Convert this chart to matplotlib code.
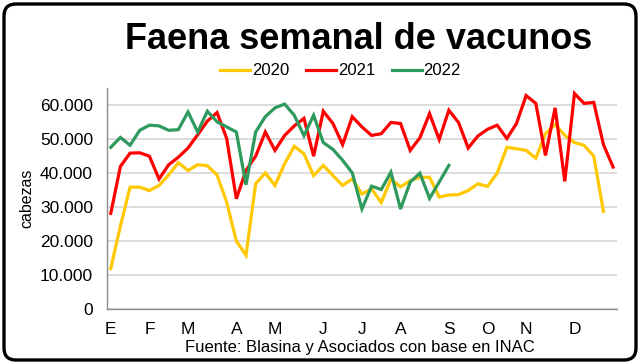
import matplotlib
matplotlib.use("Agg")
import matplotlib.pyplot as plt
from matplotlib.patches import FancyBboxPatch
from matplotlib.ticker import FuncFormatter, MultipleLocator

plt.rcParams['font.family'] = ['Liberation Sans', 'DejaVu Sans']

series_names = ["2020", "2021", "2022"]

values_2020 = [12000, 24500, 35900, 35900, 34900, 36400, 39500, 43100, 40800, 42500,
               42200, 39500, 31500, 20100, 15900, 36900, 40100, 36400, 42800, 47900,
               45700, 39300, 42300, 39300, 36400, 38300, 33900, 35400, 31400, 38200,
               36000, 37800, 38800, 38800, 33000, 33600, 33700, 34900, 36900, 36100,
               40000, 47600, 47200, 46700, 44400, 51600, 54300, 51100, 49000, 48200,
               45000, 28800]

values_2021 = [28200, 42000, 45900, 46000, 45000, 38300, 42500, 44700, 47400, 51300,
               55300, 57800, 50200, 32500, 40800, 45000, 52100, 46700, 51100, 53900,
               56100, 45000, 58200, 54600, 48400, 56600, 53600, 51100, 51600, 54900,
               54600, 46700, 50400, 57500, 49900, 58500, 54900, 47400, 50900, 52900,
               54100, 50200, 54600, 62800, 60500, 45200, 59200, 37600, 63400, 60500,
               60800, 48400, 41800]

values_2022 = [47600, 50500, 48200, 52600, 54100, 53900, 52600, 52800, 58000, 52100,
               58200, 55100, 53600, 52100, 36600, 52100, 56600, 59200, 60300, 57000,
               51000, 57000, 49000, 47000, 43800, 40100, 29500, 36200, 35200, 40300,
               29500, 37400, 40000, 32600, 37400, 42300]

month_labels = ["E", "F", "M", "A", "M", "J", "J", "A", "S", "O", "N", "D"]
month_weeks = [0, 4, 8, 13, 17, 22, 26, 30, 35, 39, 43, 48]

colors = ["#FFC800", "#FF0000", "#2E9A5E"]

fig = plt.figure(figsize=(6.4, 3.64), dpi=100)
ax = fig.add_axes([0.167, 0.150, 0.797, 0.608])

for name, vals, col in zip(series_names, [values_2020, values_2021, values_2022], colors):
    ax.plot(range(len(vals)), vals, color=col, lw=2.3, label=name, solid_joinstyle='miter')

ax.set_xlim(-0.4, 52.4)
ax.set_ylim(0, 65000)
ax.yaxis.set_major_locator(MultipleLocator(10000))
ax.yaxis.set_major_formatter(FuncFormatter(lambda v, p: f"{int(v):,}".replace(",", ".")))
ax.set_xticks(month_weeks)
ax.set_xticklabels(month_labels)
ax.tick_params(axis='both', length=0, labelsize=12.5, colors='black')
ax.tick_params(axis='x', pad=9)
ax.tick_params(axis='y', pad=10)
ax.grid(axis='y', color='#d9d9d9', lw=1.3)
ax.set_axisbelow(True)
for s in ['top', 'right']:
    ax.spines[s].set_visible(False)
for s in ['left', 'bottom']:
    ax.spines[s].set_color('#8c8c8c')
    ax.spines[s].set_linewidth(1.0)
ax.set_ylabel("cabezas", fontsize=11.5, labelpad=4)

fig.text(0.56, 0.892, "Faena semanal de vacunos", ha='center', va='center',
         fontsize=26, fontweight='bold')
leg = fig.legend(loc='center', bbox_to_anchor=(0.532, 0.805), ncol=3, frameon=False,
                 fontsize=12, handlelength=1.8, handletextpad=0.1, columnspacing=1.0)
fig.text(0.563, 0.045, "Fuente: Blasina y Asociados con base en INAC", ha='center',
         va='center', fontsize=12)

border = FancyBboxPatch((0.04, 0.04), 6.32, 3.56,
                        boxstyle="round,pad=0,rounding_size=0.12",
                        transform=fig.dpi_scale_trans, fill=False,
                        edgecolor='black', lw=2.4)
fig.patches.append(border)

fig.savefig("out.png", dpi=100)
